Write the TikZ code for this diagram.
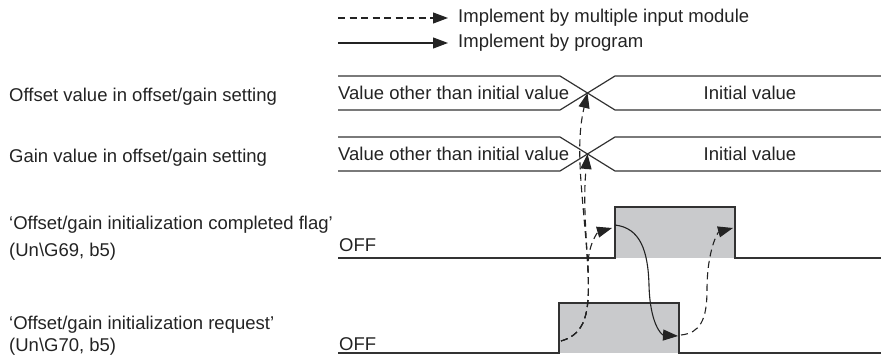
\documentclass[tikz,border=0pt]{standalone}
\usepackage{fontspec}
\setmainfont{Liberation Sans}
\usetikzlibrary{arrows.meta, positioning}
\definecolor{mydark}{RGB}{35,35,35}
\definecolor{myline}{RGB}{50,50,50}
\definecolor{hdrgray}{RGB}{201,202,204}
\tikzset{
  lbl/.style={anchor=west,inner sep=0pt,font=\fontsize{18.5}{22}\selectfont,text=mydark,align=left},
  wave/.style={line width=1.2pt,color=myline},
  arrow/.style={-{Triangle[length=15pt,width=11pt]},line width=1.1pt,color=mydark},
  dasharrow/.style={-{Triangle[length=15pt,width=11pt]},line width=1.1pt,color=mydark,
    dash pattern=on 7pt off 4.5pt}
}

\begin{document}
\begin{tikzpicture}[x=1pt,y=-1pt]
  \useasboundingbox (0,0) rectangle (881,355);
  % legend
  \coordinate (lgda) at (338,18);
  \coordinate (lgdb) at (448,18);
  \coordinate (lgsa) at (338,43);
  \coordinate (lgsb) at (448,43);
  \draw[dasharrow] (lgda) -- (lgdb);
  \draw[arrow] (lgsa) -- (lgsb);
  \node[lbl, right=10pt of lgdb] (lgdt) {Implement by multiple input module};
  \node[lbl, right=10pt of lgsb] (lgst) {Implement by program};

  % signal names
  \node[lbl] (offname) at (9,97) {Offset value in offset/gain setting};
  \node[lbl] (gainname) at (9,158) {Gain value in offset/gain setting};
  \node[lbl] (flagname) at (9,238.5) {`Offset/gain initialization completed flag'\\[5pt](Un\textbackslash G69, b5)};
  \node[lbl] (reqname) at (9,336) {`Offset/gain initialization request'\\(Un\textbackslash G70, b5)};

  % offset / gain value buses
  \foreach \y/\nm in {76/off, 137/gain}{
    \draw[wave] (338,\y) -- (560,\y) -- (615,\y+34) -- (881,\y+34);
    \draw[wave] (338,\y+34) -- (560,\y+34) -- (615,\y) -- (881,\y);
    \coordinate (\nm x) at (587.5,\y+17);
    \node[lbl] (\nm old) at (338,\y+17) {Value other than initial value};
    \node[lbl, anchor=center] (\nm new) at (750,\y+17) {Initial value};
  }

  % completed flag
  \fill[hdrgray] (615,207) rectangle (735,258);
  \draw[wave] (338,258) -- (615,258) -- (615,207) -- (735,207) -- (735,258) -- (881,258);
  \node[lbl, anchor=base west] (flagoff) at (339,252) {OFF};
  \coordinate (flagon) at (612,228);
  \coordinate (flagtop) at (615,225);
  \coordinate (flagend) at (733,228);

  % request
  \fill[hdrgray] (559,303) rectangle (679,353);
  \draw[wave] (338,353) -- (559,353) -- (559,303) -- (679,303) -- (679,353) -- (881,353);
  \node[lbl, anchor=base west] (reqoffl) at (339,350) {OFF};
  \coordinate (reqon) at (561,341);
  \coordinate (reqoff) at (678,336);
  \coordinate (reqback) at (681,335);

  % connectors
  \draw[dasharrow] (reqon) .. controls (586,334) and (590,312) .. (588,270)
    .. controls (584,200) and (574,150) .. (offx);
  \draw[dasharrow] (reqon) .. controls (586,334) and (590,312) .. (588,270)
    .. controls (586,230) and (583,200) .. (gainx);
  \draw[dasharrow] (reqon) .. controls (586,334) and (590,312) .. (588,270)
    .. controls (587,245) and (598,232) .. (flagon);
  \draw[arrow] (flagtop) .. controls (640,228) and (648,250) .. (649,285)
    .. controls (650,325) and (662,335) .. (reqoff);
  \draw[dasharrow] (reqback) .. controls (700,333) and (707,320) .. (707,290)
    .. controls (707,250) and (718,232) .. (flagend);
\end{tikzpicture}
\end{document}
